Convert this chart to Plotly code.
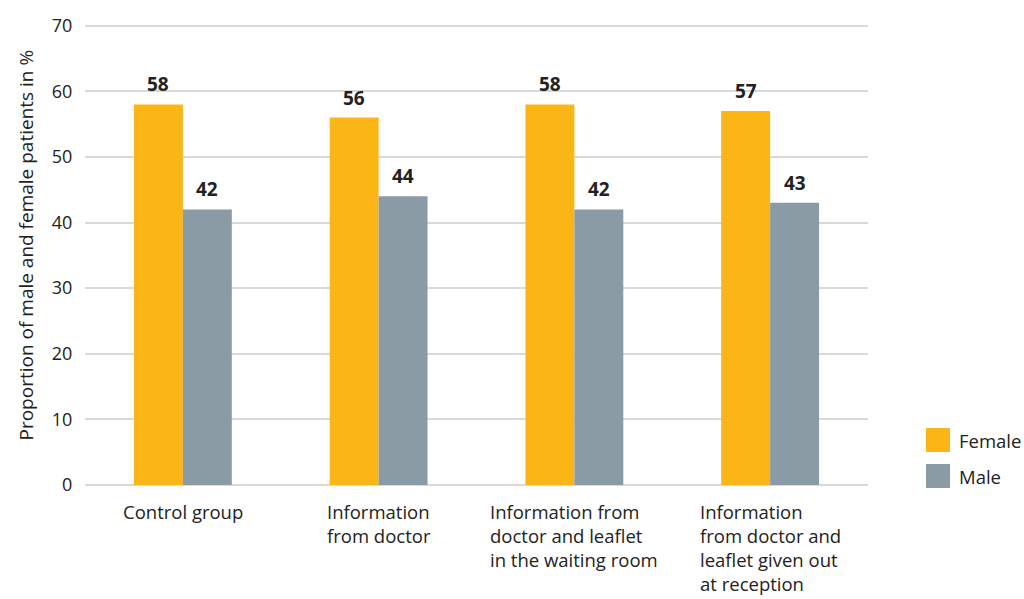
import plotly.graph_objects as go

categories = ["Control group", "Information from doctor",
              "Information from doctor and leaflet in the waiting room",
              "Information from doctor and leaflet given out at reception"]
category_labels = ["Control group", "Information<br>from doctor",
                   "Information from<br>doctor and leaflet<br>in the waiting room",
                   "Information<br>from doctor and<br>leaflet given out<br>at reception"]
female = [58, 56, 58, 57]
male = [42, 44, 42, 43]
series_names = ["Female", "Male"]
series_colors = ["#FBB516", "#8A9BA6"]
y_ticks = [0, 10, 20, 30, 40, 50, 60, 70]
y_title = "Proportion of male and female patients in %"

FONT = "Open Sans"
TXT = "#222222"
W, H = 1024, 599
ML, MR, MT, MB = 85, 156, 23, 114
PW = W - ML - MR
PH = H - MT - MB
BARGAP = 0.5
cat_px = PW / len(categories)
half_bar = cat_px * (1 - BARGAP) / 4  # offset of each bar centre from category centre

fig = go.Figure()
for i, (name, vals, col) in enumerate(zip(series_names, [female, male], series_colors)):
    fig.add_trace(go.Bar(x=categories, y=vals, name=name, marker_color=col,
                         marker_line_width=0, showlegend=False))
    sign = -1 if i == 0 else 1
    for c, v in zip(categories, vals):
        fig.add_annotation(x=c, y=v, xref="x", yref="y", text=f"<b>{v}</b>",
                           showarrow=False, xanchor="center", yanchor="bottom",
                           xshift=sign * half_bar, yshift=5,
                           font=dict(family=FONT, size=19, color=TXT))

for c, lab in zip(categories, category_labels):
    fig.add_annotation(x=c, y=0, xref="x", yref="paper", yshift=-12,
                       text=lab, showarrow=False, align="left",
                       xanchor="center", yanchor="top",
                       font=dict(family=FONT, size=18.5, color=TXT))

# y-axis title
fig.add_annotation(x=(25 - ML) / PW, y=(H - MB - 245.5) / PH, xref="paper", yref="paper",
                   text=y_title, textangle=-90, showarrow=False,
                   xanchor="center", yanchor="middle",
                   font=dict(family=FONT, size=19, color=TXT))

# manual legend (large square swatches)
leg_centers_px = [440, 476]
for name, col, cy in zip(series_names, series_colors, leg_centers_px):
    yc = (H - MB - cy) / PH
    hh = 12 / PH
    fig.add_shape(type="rect", xref="paper", yref="paper",
                  x0=(926 - ML) / PW, x1=(950 - ML) / PW, y0=yc - hh, y1=yc + hh,
                  fillcolor=col, line_width=0)
    fig.add_annotation(x=(957 - ML) / PW, y=yc, xref="paper", yref="paper", text=name,
                       showarrow=False, xanchor="left", yanchor="middle",
                       font=dict(family=FONT, size=18.5, color=TXT))

fig.update_layout(
    width=W, height=H,
    margin=dict(l=ML, r=MR, t=MT, b=MB, autoexpand=False),
    paper_bgcolor="white", plot_bgcolor="white",
    barmode="group", bargap=BARGAP, bargroupgap=0,
    font=dict(family=FONT, size=17, color=TXT),
    showlegend=False,
    xaxis=dict(showticklabels=False, showline=False, showgrid=False, zeroline=False),
    yaxis=dict(range=[0, 70.4], tickvals=y_ticks, showgrid=True, gridcolor="#d9d9d9",
               gridwidth=2, zeroline=True, zerolinecolor="#d9d9d9", zerolinewidth=2,
               ticks="outside", ticklen=8, tickcolor="rgba(0,0,0,0)",
               tickfont=dict(family=FONT, size=18, color=TXT)),
)
fig.write_html("out.html")
